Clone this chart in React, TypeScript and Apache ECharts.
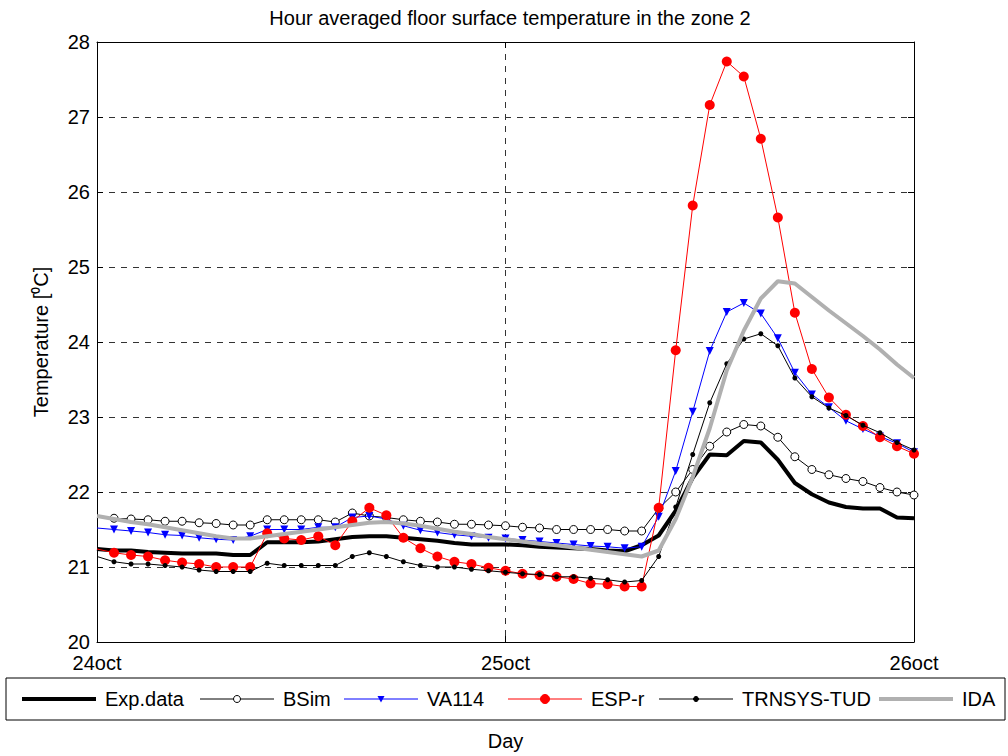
import React, { useEffect, useRef } from "react";
import * as echarts from "echarts";

const hours = [0, 1, 2, 3, 4, 5, 6, 7, 8, 9, 10, 11, 12, 13, 14, 15, 16, 17, 18, 19, 20, 21, 22, 23, 24, 25, 26, 27, 28, 29, 30, 31, 32, 33, 34, 35, 36, 37, 38, 39, 40, 41, 42, 43, 44, 45, 46, 47, 48];

const dayTicks: Record<number, string> = { 0: "24oct", 24: "25oct", 48: "26oct" };

const seriesNames = ["Exp.data", "BSim", "VA114", "ESP-r", "TRNSYS-TUD", "IDA"];

const expData = [21.24, 21.22, 21.22, 21.2, 21.19, 21.18, 21.18, 21.18, 21.16, 21.16,
  21.33, 21.33, 21.33, 21.34, 21.37, 21.4, 21.41, 21.41, 21.39, 21.37,
  21.35, 21.32, 21.3, 21.3, 21.3, 21.29, 21.27, 21.26, 21.25, 21.24,
  21.22, 21.21, 21.29, 21.42, 21.75, 22.19, 22.5, 22.49, 22.68, 22.66,
  22.43, 22.12, 21.97, 21.86, 21.8, 21.78, 21.78, 21.66, 21.65];

const bsim = [21.68, 21.65, 21.64, 21.63, 21.61, 21.61, 21.59, 21.58, 21.56, 21.56,
  21.63, 21.63, 21.63, 21.63, 21.6, 21.72, 21.68, 21.66, 21.63, 21.61,
  21.6, 21.57, 21.57, 21.56, 21.55, 21.53, 21.52, 21.5, 21.5, 21.5,
  21.5, 21.48, 21.48, 21.78, 22.0, 22.3, 22.61, 22.8, 22.9, 22.88,
  22.73, 22.47, 22.3, 22.23, 22.18, 22.14, 22.06, 22.0, 21.96];

const va114 = [21.52, 21.5, 21.48, 21.46, 21.43, 21.42, 21.39, 21.37, 21.36, 21.41,
  21.5, 21.5, 21.5, 21.53, 21.53, 21.66, 21.68, 21.64, 21.55, 21.49,
  21.46, 21.43, 21.41, 21.39, 21.38, 21.36, 21.34, 21.32, 21.3, 21.28,
  21.27, 21.25, 21.27, 21.67, 22.28, 23.07, 23.88, 24.4, 24.52, 24.38,
  24.05, 23.59, 23.3, 23.13, 22.95, 22.84, 22.74, 22.65, 22.53];

const espr = [21.24, 21.19, 21.16, 21.14, 21.09, 21.06, 21.04, 21.0, 21.0, 21.0,
  21.45, 21.38, 21.36, 21.41, 21.29, 21.61, 21.79, 21.69, 21.39, 21.25,
  21.14, 21.07, 21.04, 20.99, 20.95, 20.91, 20.89, 20.87, 20.84, 20.78,
  20.77, 20.74, 20.74, 21.79, 23.89, 25.82, 27.16, 27.74, 27.54, 26.71,
  25.66, 24.39, 23.64, 23.26, 23.03, 22.88, 22.73, 22.61, 22.51];

const trnsys = [21.14, 21.07, 21.04, 21.04, 21.02, 21.0, 20.96, 20.94, 20.94, 20.94,
  21.05, 21.02, 21.02, 21.02, 21.02, 21.14, 21.19, 21.14, 21.07, 21.02,
  21.0, 21.0, 20.97, 20.95, 20.93, 20.91, 20.9, 20.87, 20.87, 20.85,
  20.83, 20.8, 20.82, 21.14, 21.8, 22.5, 23.19, 23.71, 24.04, 24.11,
  23.95, 23.52, 23.27, 23.12, 23.02, 22.89, 22.79, 22.66, 22.56];

const ida = [21.68, 21.64, 21.6, 21.57, 21.53, 21.49, 21.45, 21.41, 21.38, 21.38,
  21.41, 21.44, 21.47, 21.5, 21.53, 21.56, 21.59, 21.6, 21.58, 21.55,
  21.51, 21.47, 21.44, 21.4, 21.37, 21.34, 21.31, 21.29, 21.26, 21.23,
  21.2, 21.17, 21.14, 21.22, 21.64, 22.2, 22.85, 23.62, 24.15, 24.58,
  24.81, 24.78, 24.6, 24.42, 24.25, 24.08, 23.9, 23.7, 23.52];

const FONT = "'Liberation Sans', Arial, sans-serif";

// series visual styles
const styles = [
  { color: "#000", width: 4, marker: "none", size: 0, fill: "#000" },
  { color: "#000", width: 1, marker: "circle", size: 8, fill: "#fff" },
  { color: "#0000ff", width: 1, marker: "triangle", size: 8, fill: "#0000ff" },
  { color: "#ff0000", width: 1, marker: "circle", size: 10, fill: "#ff0000" },
  { color: "#000", width: 1, marker: "circle", size: 5, fill: "#000" },
  { color: "#b0b0b0", width: 4, marker: "none", size: 0, fill: "#b0b0b0" },
];

// legend layout (pixel positions of each item's line start)
const legendLineX = [22, 200, 344, 508, 659, 879];
const LEG_LINE_W = 74;

function pairs(vals: number[]) {
  return vals.map((v, i) => (i === 0 ? { value: [hours[i], v], symbol: "none" } : { value: [hours[i], v] }));
}

function legendGraphics() {
  const els: any[] = [
    { type: "rect", shape: { x: 6, y: 678, width: 999, height: 42 }, style: { fill: "#fff", stroke: "#000", lineWidth: 1 }, z: 10 },
  ];
  const cy = 699;
  seriesNames.forEach((name, i) => {
    const s = styles[i];
    const x0 = legendLineX[i];
    const cx = x0 + LEG_LINE_W / 2;
    els.push({ type: "line", shape: { x1: x0, y1: cy, x2: x0 + LEG_LINE_W, y2: cy }, style: { stroke: s.color, lineWidth: s.width }, z: 11 });
    if (s.marker === "circle") {
      const r = i === 1 ? 3.5 : i === 3 ? 4.5 : 2.5;
      els.push({ type: "circle", shape: { cx, cy, r }, style: { fill: s.fill, stroke: s.color, lineWidth: 1 }, z: 12 });
    } else if (s.marker === "triangle") {
      els.push({ type: "polygon", shape: { points: [[cx - 3.5, cy - 3], [cx + 3.5, cy - 3], [cx, cy + 3.5]] }, style: { fill: s.fill }, z: 12 });
    }
    els.push({
      type: "text",
      x: x0 + LEG_LINE_W + 9,
      y: cy,
      style: { text: name, font: `20px ${FONT}`, fill: "#000", textVerticalAlign: "middle", verticalAlign: "middle" },
      z: 12,
    });
  });
  return els;
}

export default function App() {
  const ref = useRef<HTMLDivElement>(null);
  useEffect(() => {
    if (!ref.current) return;
    const chart = echarts.init(ref.current, null, { renderer: "svg" });
    const split = { show: true, lineStyle: { color: "#333", type: [6, 6] as any, width: 1 } };
    const allData = [expData, bsim, va114, espr, trnsys, ida];
    chart.setOption({
      animation: false,
      backgroundColor: "#fff",
      textStyle: { fontFamily: FONT },
      title: {
        text: "Hour averaged floor surface temperature in the zone 2",
        left: 505,
        textAlign: "center",
        top: 3,
        textStyle: { fontFamily: FONT, fontSize: 20, fontWeight: "normal", color: "#000" },
      },
      grid: { left: 97, top: 42, width: 817, height: 603, containLabel: false },
      graphic: legendGraphics(),
      xAxis: [
        {
          type: "value",
          min: 0,
          max: 48,
          interval: 24,
          position: "bottom",
          name: "Day",
          nameLocation: "middle",
          nameGap: 89,
          nameTextStyle: { fontFamily: FONT, fontSize: 20, color: "#000" },
          axisLine: { show: true, onZero: false, lineStyle: { color: "#000", width: 1 } },
          axisTick: { show: true, inside: true, length: 6, lineStyle: { color: "#000" } },
          axisLabel: {
            fontFamily: FONT,
            fontSize: 20,
            color: "#000",
            margin: 11,
            formatter: (v: number) => dayTicks[v] ?? "",
          },
          splitLine: split,
        },
        {
          type: "value",
          min: 0,
          max: 48,
          interval: 24,
          position: "top",
          axisLine: { show: true, onZero: false, lineStyle: { color: "#000", width: 1 } },
          axisTick: { show: true, inside: true, length: 6, lineStyle: { color: "#000" } },
          axisLabel: { show: false },
          splitLine: { show: false },
        },
      ],
      yAxis: [
        {
          type: "value",
          min: 20,
          max: 28,
          interval: 1,
          position: "left",
          name: "Temperature [⁰C]",
          nameLocation: "middle",
          nameGap: 46,
          nameTextStyle: { fontFamily: FONT, fontSize: 20, color: "#000" },
          axisLine: { show: true, onZero: false, lineStyle: { color: "#000", width: 1 } },
          axisTick: { show: true, inside: true, length: 6, lineStyle: { color: "#000" } },
          axisLabel: { fontFamily: FONT, fontSize: 20, color: "#000", margin: 7 },
          splitLine: split,
        },
        {
          type: "value",
          min: 20,
          max: 28,
          interval: 1,
          position: "right",
          axisLine: { show: true, onZero: false, lineStyle: { color: "#000", width: 1 } },
          axisTick: { show: true, inside: true, length: 6, lineStyle: { color: "#000" } },
          axisLabel: { show: false },
          splitLine: { show: false },
        },
      ],
      series: seriesNames.map((name, i) => {
        const s = styles[i];
        return {
          name,
          type: "line",
          data: pairs(allData[i]),
          symbol: s.marker,
          symbolSize: s.size,
          symbolRotate: s.marker === "triangle" ? 180 : 0,
          color: s.color,
          itemStyle: { color: s.fill, borderColor: s.color, borderWidth: s.marker === "circle" && i === 1 ? 1 : 0 },
          lineStyle: { color: s.color, width: s.width },
          z: 2 + i,
        };
      }),
    });
    return () => chart.dispose();
  }, []);
  return <div ref={ref} style={{ width: 1008, height: 756, position: "absolute", left: 0, top: 0 }} />;
}
